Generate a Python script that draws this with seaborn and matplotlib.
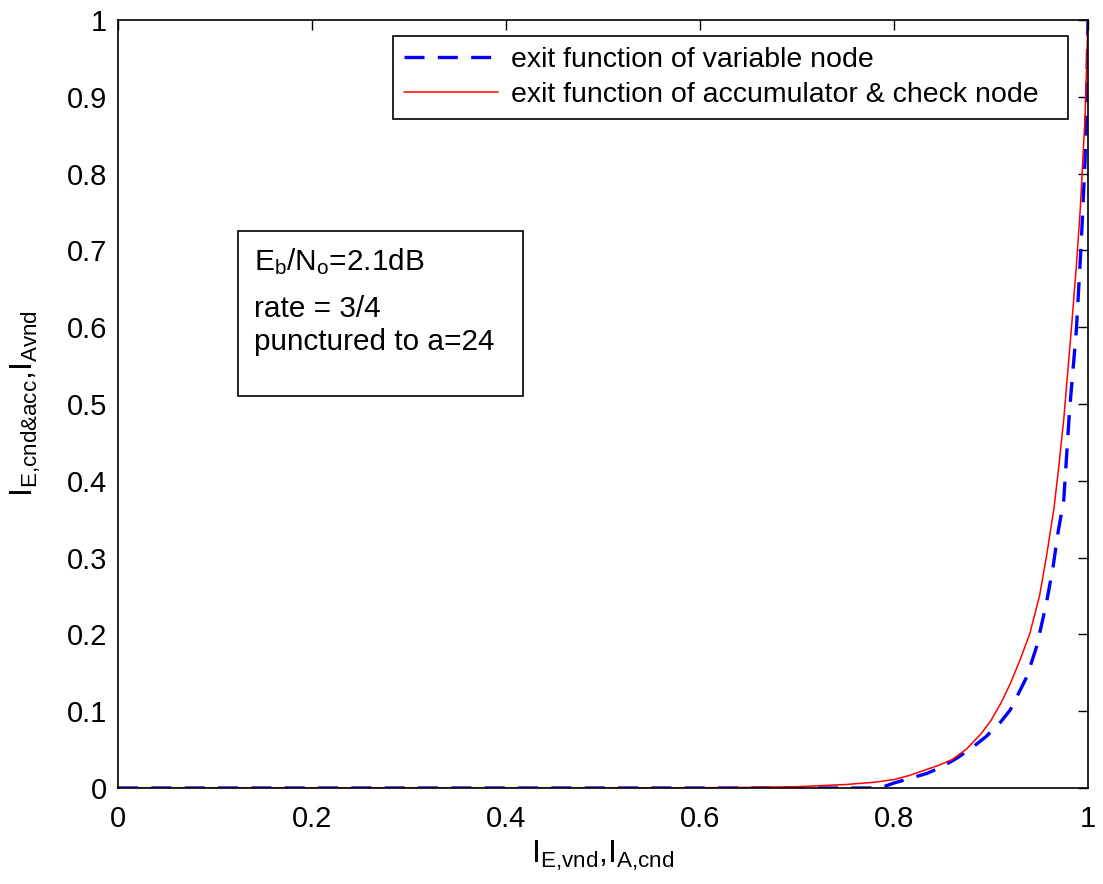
import pandas as pd
import matplotlib
matplotlib.use("Agg")
import matplotlib.pyplot as plt
import seaborn as sns

# EXIT curves
vnd_x = [0.0, 0.1, 0.2, 0.3, 0.4, 0.5, 0.6, 0.7, 0.78, 0.79, 0.80, 0.815, 0.834, 0.85, 0.865,
         0.88, 0.895, 0.91, 0.92, 0.937, 0.947, 0.957, 0.964, 0.969, 0.975, 0.981, 0.988,
         0.993, 0.997, 0.999, 1.0]
vnd_y = [0.0, 0.0, 0.0, 0.0, 0.0, 0.0, 0.0, 0.0, 0.0, 0.002, 0.0065, 0.012, 0.019, 0.028, 0.039,
         0.052, 0.067, 0.086, 0.102, 0.145, 0.184, 0.240, 0.288, 0.332, 0.375, 0.492, 0.596,
         0.709, 0.818, 0.926, 1.0]

acc_x = [0.0, 0.1, 0.2, 0.3, 0.4, 0.5, 0.6, 0.65, 0.7, 0.75, 0.78, 0.8, 0.815, 0.83, 0.845,
         0.86, 0.875, 0.89, 0.90, 0.91, 0.92, 0.93, 0.94, 0.95, 0.957, 0.965, 0.97, 0.975,
         0.983, 0.988, 0.992, 0.997, 1.0]
acc_y = [0.0, 0.0, 0.0, 0.0, 0.0, 0.0, 0.0003, 0.0008, 0.0017, 0.0045, 0.0075, 0.011, 0.016,
         0.0226, 0.029, 0.037, 0.051, 0.071, 0.088, 0.110, 0.136, 0.167, 0.201, 0.250, 0.300,
         0.365, 0.420, 0.480, 0.600, 0.680, 0.753, 0.875, 1.0]

labels = ["exit function of variable node", "exit function of accumulator & check node"]
box_lines = ["$\\mathregular{E_b/N_o}$=2.1dB", "rate = 3/4", "punctured to a=24"]
x_ticks = [0, 0.2, 0.4, 0.6, 0.8, 1]
y_ticks = [0, 0.1, 0.2, 0.3, 0.4, 0.5, 0.6, 0.7, 0.8, 0.9, 1]

sns.set_style("white")
plt.rcParams["font.family"] = ["Liberation Sans", "DejaVu Sans"]
plt.rcParams["mathtext.fontset"] = "custom"
plt.rcParams["mathtext.rm"] = "Liberation Sans"
plt.rcParams["mathtext.it"] = "Liberation Sans"
plt.rcParams["text.color"] = "black"
plt.rcParams["axes.labelcolor"] = "black"
plt.rcParams["xtick.color"] = "black"
plt.rcParams["ytick.color"] = "black"

vnd = pd.DataFrame({"x": vnd_x, "y": vnd_y})
acc = pd.DataFrame({"x": acc_x, "y": acc_y})

fig = plt.figure(figsize=(11.03, 8.84), dpi=100)
ax = fig.add_axes([0.107, 0.1086, 0.8794, 0.8688])

sns.lineplot(data=vnd, x="x", y="y", ax=ax, color="blue", lw=2.4,
             dashes=False, linestyle=(0, (6, 4)), label=labels[0])
sns.lineplot(data=acc, x="x", y="y", ax=ax, color="red", lw=1.1, label=labels[1])

ax.set_xlim(0, 1)
ax.set_ylim(0, 1)
ax.set_xticks(x_ticks)
ax.set_yticks(y_ticks)
ax.set_xticklabels([f"{t:g}" for t in x_ticks])
ax.set_yticklabels([f"{t:g}" for t in y_ticks])
ax.tick_params(direction="in", length=7, width=1, top=True, right=True, labelsize=21, pad=8)
ax.tick_params(axis="x", pad=12)
for s in ax.spines.values():
    s.set_color("black")
    s.set_linewidth(1.2)

ax.set_xlabel(r"$\mathregular{I_{E{,}vnd}{,}I_{A{,}cnd}}$", fontsize=23, labelpad=4)
ax.set_ylabel(r"$\mathregular{I_{E{,}cnd&acc}{,}I_{Avnd}}$", fontsize=23, labelpad=17)

# legend box spans x 393..1068 px, top at 36 px; expand mode leaves the extra room on the right
leg = ax.legend(loc="upper left", bbox_to_anchor=(0.2835, 0.9792, 0.6959, 0.0), mode="expand",
                fontsize=20.5, frameon=True, fancybox=False, edgecolor="black", framealpha=1,
                handlelength=3.3, handletextpad=0.45, borderpad=0.38, labelspacing=0.34,
                borderaxespad=0)
leg.get_frame().set_linewidth(1.2)

# annotation box drawn as a rectangle plus three text lines
ax.add_patch(plt.Rectangle((0.1237, 0.5104), 0.2938, 0.2149, transform=ax.transAxes,
                           fc="white", ec="black", lw=1.2, zorder=5))
for line, yb in zip(box_lines, [0.6745, 0.6133, 0.5703]):
    ax.text(0.1406, yb, line, transform=ax.transAxes, fontsize=21.4,
            va="baseline", ha="left", zorder=6)

fig.savefig("out.png", dpi=100)
